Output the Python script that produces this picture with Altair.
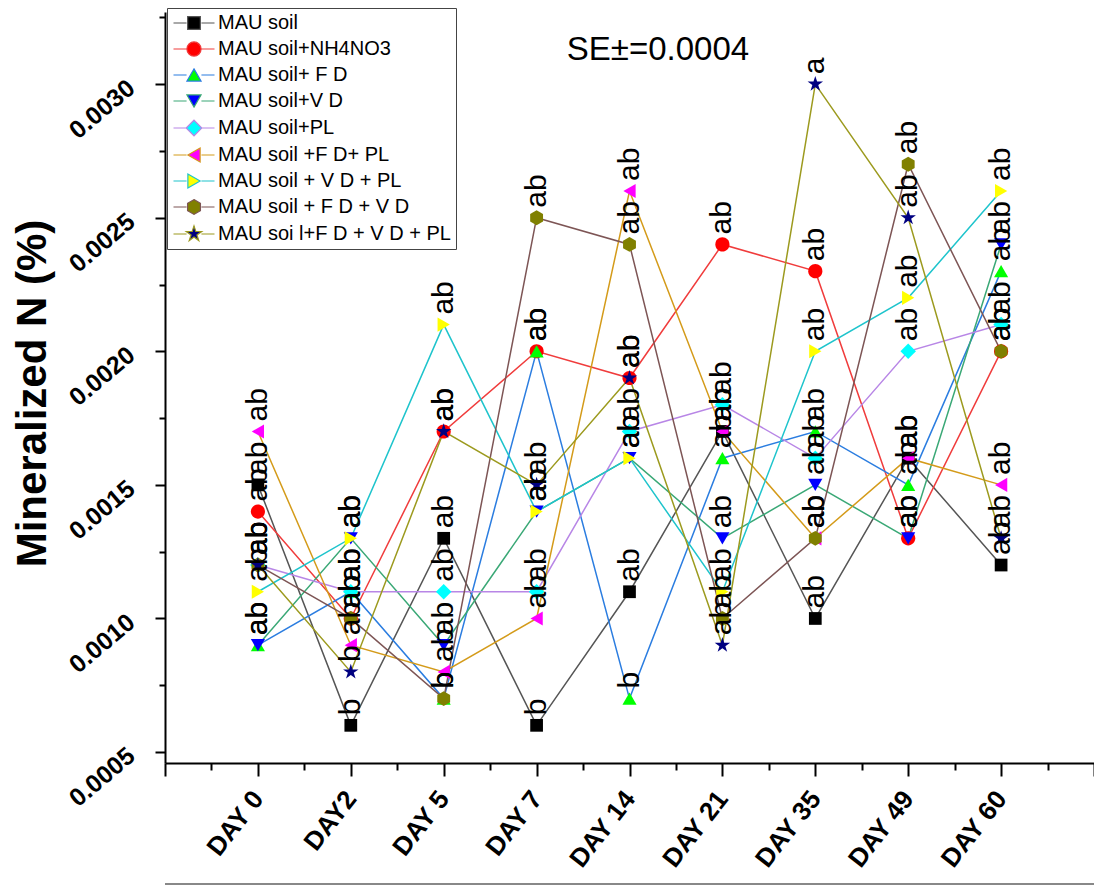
import json
import altair as alt
import pandas as pd

# ---------------- data ----------------
days = ["DAY 0", "DAY2", "DAY 5", "DAY 7", "DAY 14", "DAY 21", "DAY 35", "DAY 49", "DAY 60"]

series = [
    "MAU soil",
    "MAU soil+NH4NO3",
    "MAU soil+ F D",
    "MAU soil+V D",
    "MAU soil+PL",
    "MAU soil +F D+ PL",
    "MAU soil + V D + PL",
    "MAU soil + F D + V D",
    "MAU soi l+F D + V D + PL",
]

mau_soil = [0.0015, 0.0006, 0.0013, 0.0006, 0.0011, 0.0017, 0.0010, 0.0016, 0.0012]
nh4no3 = [0.0014, 0.0010, 0.0017, 0.0020, 0.0019, 0.0024, 0.0023, 0.0013, 0.0020]
fd = [0.0009, 0.0011, 0.0007, 0.0020, 0.0007, 0.0016, 0.0017, 0.0015, 0.0023]
vd = [0.0009, 0.0013, 0.0009, 0.0014, 0.0016, 0.0013, 0.0015, 0.0013, 0.0024]
pl = [0.0012, 0.0011, 0.0011, 0.0011, 0.0017, 0.0018, 0.0016, 0.0020, 0.0021]
fd_pl = [0.0017, 0.0009, 0.0008, 0.0010, 0.0026, 0.0017, 0.0013, 0.0016, 0.0015]
vd_pl = [0.0011, 0.0013, 0.0021, 0.0014, 0.0016, 0.0011, 0.0020, 0.0022, 0.0026]
fd_vd = [0.0012, 0.0010, 0.0007, 0.0025, 0.0024, 0.0010, 0.0013, 0.0027, 0.0020]
fd_vd_pl = [0.0012, 0.0008, 0.0017, 0.0015, 0.0019, 0.0009, 0.0030, 0.0025, 0.0013]

lab_mau_soil = ["ab", "b", "ab", "b", "ab", "ab", "ab", "ab", "ab"]
lab_nh4no3 = ["ab"] * 9
lab_fd = ["ab", "ab", "b", "ab", "b", "ab", "ab", "ab", "ab"]
lab_vd = ["ab"] * 9
lab_pl = ["ab"] * 9
lab_fd_pl = ["ab"] * 9
lab_vd_pl = ["ab"] * 9
lab_fd_vd = ["ab", "ab", "b", "ab", "ab", "ab", "ab", "ab", "ab"]
lab_fd_vd_pl = ["ab", "b", "ab", "ab", "ab", "ab", "a", "ab", "ab"]

se_text = "SE\u00b1=0.0004"

# ---------------- styles ----------------
line_colors = ["#555555", "#f03c3c", "#2b7de0", "#3aa876", "#b886e6",
               "#d49b1a", "#1ec4cc", "#7d5555", "#9c9a1e"]
marker_colors = ["#000000", "#ff0000", "#00ff00", "#0000ff", "#00ffff",
                 "#ff00ff", "#ffff00", "#808000", "#000080"]

HEX = "M0,-1.05L0.91,-0.525L0.91,0.525L0,1.05L-0.91,0.525L-0.91,-0.525Z"
STAR = ("M0,-1.15L0.258,-0.355L1.094,-0.355L0.418,0.136L0.676,0.93L0,0.439"
        "L-0.676,0.93L-0.418,0.136L-1.094,-0.355L-0.258,-0.355Z")
marker_paths = [
    "M-0.9,-0.9H0.9V0.9H-0.9Z",
    "M-1,0A1,1 0 1,0 1,0A1,1 0 1,0 -1,0Z",
    "M0,-0.866L1,0.866L-1,0.866Z",
    "M0,0.866L1,-0.866L-1,-0.866Z",
    "M-1.1,0L0,-1.1L1.1,0L0,1.1Z",
    "M-0.866,0L0.866,-1L0.866,1Z",
    "M0.866,0L-0.866,-1L-0.866,1Z",
    HEX,
    STAR,
]
stub = "M-2.9,0H-1.05M1.05,0H2.9"
legend_paths = [stub + p for p in marker_paths]

# ---------------- table ----------------
vals = [mau_soil, nh4no3, fd, vd, pl, fd_pl, vd_pl, fd_vd, fd_vd_pl]
labs = [lab_mau_soil, lab_nh4no3, lab_fd, lab_vd, lab_pl, lab_fd_pl,
        lab_vd_pl, lab_fd_vd, lab_fd_vd_pl]
rows = []
for si, name in enumerate(series):
    for di, d in enumerate(days):
        rows.append({"series": name, "sidx": si, "day": d, "pos": di + 1,
                     "value": vals[si][di], "label": labs[si][di]})
df = pd.DataFrame(rows)

FONT = "Liberation Sans"
W, H = 929, 751

y_scale = alt.Scale(domain=[0.000459, 0.00327], nice=False, zero=False)
x_scale = alt.Scale(domain=[0, 10], nice=False, zero=False)

major_y = "abs(datum.value*2000 - round(datum.value*2000)) < 0.001"
y_axis = alt.Axis(
    values=[round(0.0005 + 0.00025 * i, 6) for i in range(12)],
    labelExpr=f"{major_y} ? format(datum.value, '.4f') : ''",
    tickSize={"condition": {"test": major_y, "value": 10}, "value": 6},
    title="Mineralized N (%)",
    titleFont=FONT, titleFontSize=42, titleFontWeight="bold", titleColor="black",
    titleAngle=270, titleAlign="center", titleBaseline="middle",
    titleX=-133, titleY=381,
    labelFont=FONT, labelFontSize=25, labelFontWeight="bold", labelColor="black",
    labelAngle=-40, labelAlign="right", labelBaseline="middle",
    labelPadding=24, labelOverlap=False,
    domainColor="black", domainWidth=2, tickColor="black", tickWidth=2,
    grid=False,
)

major_x = "datum.value % 1 == 0"
x_axis = alt.Axis(
    values=[i * 0.5 for i in range(21)],
    labelExpr=(f"{major_x} && datum.value >= 1 && datum.value <= {len(days)} ? "
               f"{json.dumps(days)}[datum.value - 1] : ''"),
    tickSize={"condition": {"test": major_x, "value": 13}, "value": 7},
    title=None,
    labelFont=FONT, labelFontSize=26, labelFontWeight="bold", labelColor="black",
    labelAngle=-52, labelAlign="right", labelBaseline="middle",
    labelPadding=18, labelOverlap=False,
    domainColor="black", domainWidth=2, tickColor="black", tickWidth=2,
    grid=False,
)

base = alt.Chart(df)

lines = base.mark_line(strokeWidth=1.5).encode(
    x=alt.X("pos:Q", scale=x_scale, axis=x_axis),
    y=alt.Y("value:Q", scale=y_scale, axis=y_axis),
    stroke=alt.Stroke("series:N", scale=alt.Scale(domain=series, range=line_colors), legend=None),
    detail="series:N",
    order="pos:Q",
)

points = base.mark_point(filled=True, size=200, opacity=1, strokeWidth=0).encode(
    x="pos:Q",
    y="value:Q",
    shape=alt.Shape("series:N", scale=alt.Scale(domain=series, range=marker_paths), legend=None),
    fill=alt.Fill("series:N", scale=alt.Scale(domain=series, range=marker_colors), legend=None),
)

texts = base.mark_text(angle=270, align="left", baseline="middle", dx=10,
                       fontSize=30, font=FONT, color="black").encode(
    x="pos:Q",
    y="value:Q",
    text="label:N",
)

legend_layer = base.mark_point(filled=True, size=200, opacity=1, strokeWidth=1.2).encode(
    x="pos:Q",
    y="value:Q",
    shape=alt.Shape("series:N", scale=alt.Scale(domain=series, range=legend_paths),
                    legend=alt.Legend(title=None)),
    fill=alt.Fill("series:N", scale=alt.Scale(domain=series, range=marker_colors),
                  legend=alt.Legend(title=None)),
    stroke=alt.Stroke("series:N", scale=alt.Scale(domain=series, range=line_colors),
                      legend=alt.Legend(title=None)),
).transform_filter("false")

se = alt.Chart(pd.DataFrame({"t": [se_text]})).mark_text(
    fontSize=33, font=FONT, color="black", align="center", baseline="middle"
).encode(x=alt.value(493), y=alt.value(38), text="t:N")

frame_line = alt.Chart(pd.DataFrame({"k": [0]})).mark_rule(
    color="#888888", strokeWidth=2
).encode(x=alt.value(0), x2=alt.value(W), y=alt.value(872))

chart = alt.layer(lines, points, texts, legend_layer, se, frame_line).resolve_scale(
    shape="independent", fill="independent", stroke="independent"
).properties(
    width=W, height=H,
    autosize=alt.AutoSizeParams(type="none"),
    padding={"left": 165, "top": 12, "right": 0, "bottom": 123},
).configure_view(stroke=None).configure_legend(
    orient="none", legendX=2, legendY=-4,
    labelFont=FONT, labelFontSize=20, labelColor="black", labelLimit=400,
    symbolSize=200, symbolStrokeWidth=1.2, symbolOffset=12, labelOffset=14,
    rowPadding=6, padding=5, strokeColor="#444444", fillColor="white",
)

chart.save("out.html", embed_options={"renderer": "svg", "actions": False})
